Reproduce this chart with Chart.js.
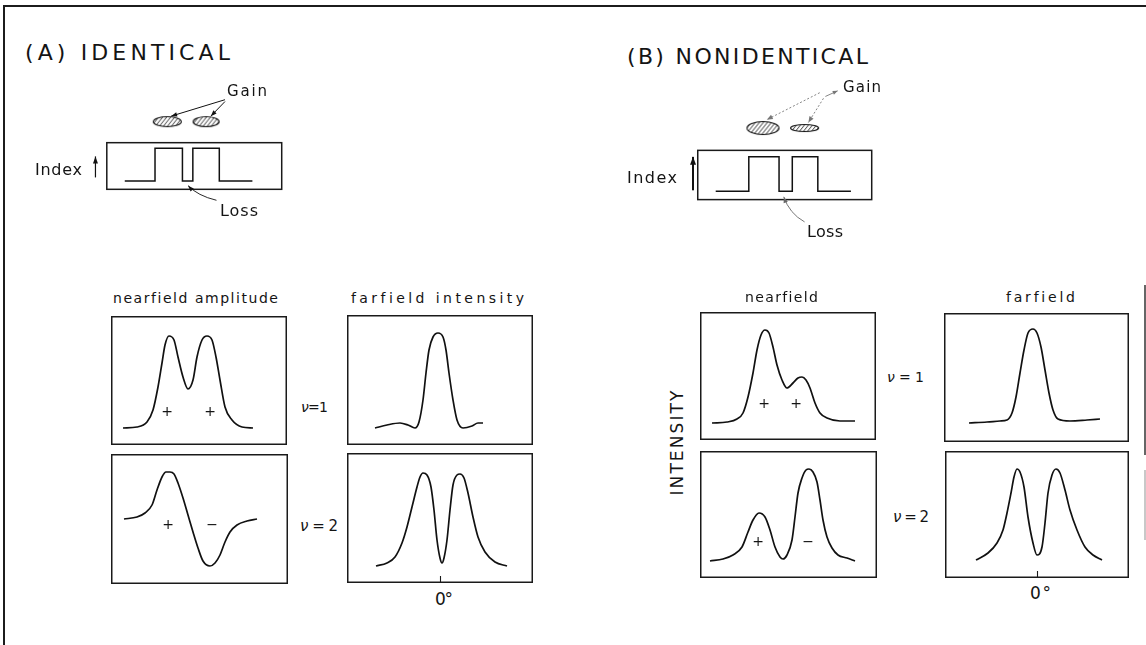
<!DOCTYPE html>
<html><head><meta charset="utf-8">
<script src="https://cdn.jsdelivr.net/npm/chart.js@4.4.1/dist/chart.umd.min.js"></script>
<style>
html,body{margin:0;padding:0;background:#fff;}
#page{position:relative;width:1146px;height:645px;overflow:hidden;background:#fff;font-family:"DejaVu Sans","Noto Sans",sans-serif;font-weight:normal;color:#141414;}
canvas{position:absolute;}
.t{position:absolute;white-space:nowrap;line-height:1;transform:translateY(-50%);}
.c{position:absolute;white-space:nowrap;line-height:1;transform:translate(-50%,-50%);}
.ln{position:absolute;background:#1c1c1c;}
</style></head><body><div id="page"></div>
<script>
// ---------- data (x: position / angle units, y: amplitude / intensity units) ----------
const nearA1 = [[12,17],[26,18],[36,23],[42,35],[47,58],[51,82],[54,100],[58,109],[63,105],[67,88],[72,68],[77,56],[82,65],[86,88],[91,105],[96,109],[101,105],[105,88],[109,65],[114,38],[121,25],[131,18],[142,17]];
const nearA2 = [[13,65],[26,67],[34,71],[41,79],[46,94],[51,107],[55,112],[59,112],[63,110],[67,101],[72,86],[77,69],[82,52],[87,36],[92,23],[99,18],[104,21],[109,29],[114,42],[119,52],[126,59],[136,63],[146,65]];
const farA1 = [[-65,17],[-53,20],[-40,22],[-32,20],[-25,17],[-21,23],[-17,45],[-14,72],[-11,95],[-7,108],[-2,112],[3,108],[6,95],[9,72],[13,45],[17,25],[23,17],[32,19],[38,22],[43,22]];
const farA2 = [[-64,17],[-53,20],[-45,26],[-38,40],[-33,56],[-28,76],[-23,96],[-20,106],[-17,110],[-13,108],[-9,96],[-6,73],[-3,43],[0,25],[2,20],[4,25],[7,43],[10,73],[13,98],[17,108],[20,109],[24,105],[28,90],[33,66],[38,46],[45,31],[55,21],[67,17]];
const nearB1 = [[12,17],[27,18],[37,21],[43,27],[48,43],[53,67],[57,90],[61,105],[65,110],[69,107],[73,93],[77,75],[82,60],[87,52],[93,57],[98,62],[102,63],[106,60],[110,52],[115,37],[120,27],[127,22],[140,19],[155,19]];
const nearB2 = [[10,17],[23,19],[33,23],[42,31],[48,46],[53,58],[59,65],[65,61],[70,48],[75,31],[80,21],[83,19],[87,23],[92,38],[95,61],[98,85],[102,100],[106,108],[109,109],[113,106],[117,96],[120,78],[123,58],[127,41],[132,30],[138,23],[147,20],[155,17]];
const farB1 = [[-68,19],[-50,20],[-37,21],[-30,22],[-25,29],[-21,45],[-17,69],[-13,92],[-9,109],[-4,113],[0,109],[4,95],[8,72],[12,49],[16,32],[21,23],[33,21],[50,22],[63,23]];
const farB2 = [[-61,18],[-49,25],[-40,35],[-34,48],[-30,65],[-26,85],[-23,101],[-20,109],[-17,106],[-13,91],[-9,61],[-4,35],[0,23],[5,31],[8,55],[11,85],[15,103],[19,109],[23,105],[28,88],[33,68],[40,48],[48,31],[56,23],[65,18]];
const farTicks = [0];
const farTickLabels = ["0°"];

// index profiles (schematic), gain regions
const indexA = [[41,36],[73,36],[73,72],[102,72],[102,36],[113,36],[113,72],[141,72],[141,36],[176,36]];
const gainA = [[86,101],[127,101]];
const indexB = [[42,46],[77,46],[77,83],[109,83],[109,46],[123,46],[123,83],[150,83],[150,46],[185,46]];
const gainB = [[92,114],[136,114]];

const modeLabels = ["ν = 1","ν = 2"];

// ---------- helpers ----------
const page = document.getElementById('page');
function addCanvas(l,t,w,h){
  const c=document.createElement('canvas');
  c.width=w;c.height=h;
  c.style.left=l+'px';c.style.top=t+'px';c.style.width=w+'px';c.style.height=h+'px';
  page.appendChild(c);return c;
}
function label(html,x,y,size,target,cls,extra){
  const d=document.createElement('div');
  d.className=cls||'t';
  d.innerHTML=html;
  d.style.left=x+'px';d.style.top=y+'px';d.style.fontSize=size+'px';
  if(extra) Object.assign(d.style,extra);
  page.appendChild(d);
  if(target){
    const r=d.getBoundingClientRect();
    const w=(extra&&extra.rot)?r.height:r.width;
    const n=[...d.textContent].length;
    if(n>1) d.style.letterSpacing=((target-w)/(n-1)).toFixed(2)+'px';
  }
  return d;
}
function line(l,t,w,h,col){const d=document.createElement('div');d.className='ln';Object.assign(d.style,{left:l+'px',top:t+'px',width:w+'px',height:h+'px'});if(col)d.style.background=col;page.appendChild(d);}

const framePlugin = {
  id:'frame',
  afterDraw(chart,args,opts){
    const ctx=chart.ctx,a=chart.chartArea;
    ctx.save();
    ctx.strokeStyle='#1a1a1a';ctx.lineWidth=1.5;
    ctx.strokeRect(a.left+0.75,a.top+0.75,a.width-1.5,a.height-1.5);
    if(opts.ticks){
      ctx.lineWidth=1.1;
      opts.ticks.forEach(v=>{
        const x=Math.round(chart.scales.x.getPixelForValue(v))+0.5;
        ctx.beginPath();ctx.moveTo(x,a.bottom);ctx.lineTo(x,a.bottom-7);ctx.stroke();
      });
    }
    ctx.restore();
  }
};

function panel(l,t,w,h,xmin,pts,ticks){
  const c=addCanvas(l,t,w,h);
  return new Chart(c,{
    type:'line',
    data:{datasets:[{data:pts.map(p=>({x:p[0],y:p[1]})),borderColor:'#111',borderWidth:1.7,pointRadius:0,cubicInterpolationMode:'monotone',fill:false}]},
    options:{responsive:false,animation:false,events:[],layout:{padding:0},
      plugins:{legend:{display:false},tooltip:{enabled:false},frame:{ticks:ticks||null}},
      scales:{x:{type:'linear',display:false,min:xmin,max:xmin+w},y:{type:'linear',display:false,min:0,max:h}}},
    plugins:[framePlugin]
  });
}

function hatchEllipse(w,h){
  const c=document.createElement('canvas');c.width=w+3;c.height=h+3;
  const ctx=c.getContext('2d');
  const cx=c.width/2,cy=c.height/2;
  ctx.save();
  ctx.beginPath();ctx.ellipse(cx,cy,w/2,h/2,0,0,Math.PI*2);ctx.clip();
  ctx.strokeStyle='#222';ctx.lineWidth=0.9;
  for(let i=-h;i<w+h;i+=4){ctx.beginPath();ctx.moveTo(i,c.height);ctx.lineTo(i+c.height*0.8,0);ctx.stroke();}
  ctx.restore();
  ctx.strokeStyle='#111';ctx.lineWidth=1.1;
  ctx.beginPath();ctx.ellipse(cx,cy,w/2,h/2,0,0,Math.PI*2);ctx.stroke();
  return c;
}

const schemPlugin = {
  id:'schem',
  afterDraw(chart,args,opts){
    const ctx=chart.ctx,sx=chart.scales.x,sy=chart.scales.y;
    const P=(p)=>[sx.getPixelForValue(p[0]),sy.getPixelForValue(p[1])];
    ctx.save();
    const b=opts.box;
    const p0=P([b[0],b[3]]),p1=P([b[1],b[2]]);
    ctx.strokeStyle='#1a1a1a';ctx.lineWidth=1.5;
    ctx.strokeRect(p0[0],p0[1],p1[0]-p0[0],p1[1]-p0[1]);
    (opts.arrows||[]).forEach(ar=>{
      const f=P(ar.from),t=P(ar.to);
      const cp=ar.ctrl?P(ar.ctrl):null;
      ctx.strokeStyle=ar.color||'#111';ctx.fillStyle=ar.color||'#111';
      ctx.lineWidth=ar.width||1;
      ctx.setLineDash(ar.dash||[]);
      ctx.beginPath();ctx.moveTo(f[0],f[1]);
      if(cp) ctx.quadraticCurveTo(cp[0],cp[1],t[0],t[1]); else ctx.lineTo(t[0],t[1]);
      ctx.stroke();
      ctx.setLineDash([]);
      const s=cp||f;
      const ang=Math.atan2(t[1]-s[1],t[0]-s[0]);
      const hl=ar.hl||6,hw=ar.hw||2.2;
      ctx.beginPath();
      ctx.moveTo(t[0],t[1]);
      ctx.lineTo(t[0]-hl*Math.cos(ang)+hw*Math.sin(ang),t[1]-hl*Math.sin(ang)-hw*Math.cos(ang));
      ctx.lineTo(t[0]-hl*Math.cos(ang)-hw*Math.sin(ang),t[1]-hl*Math.sin(ang)+hw*Math.cos(ang));
      ctx.closePath();ctx.fill();
    });
    ctx.restore();
  }
};

function schematic(l,t,w,h,step,gains,sizes,box,arrows){
  const c=addCanvas(l,t,w,h);
  const imgs=sizes.map(s=>hatchEllipse(s[0],s[1]));
  return new Chart(c,{
    type:'line',
    data:{datasets:[
      {data:step.map(p=>({x:p[0],y:p[1]})),borderColor:'#111',borderWidth:1.5,pointRadius:0,tension:0,fill:false},
      {data:gains.map(p=>({x:p[0],y:p[1]})),showLine:false,pointStyle:imgs,pointRadius:6,borderWidth:0}
    ]},
    options:{responsive:false,animation:false,events:[],layout:{padding:0},
      plugins:{legend:{display:false},tooltip:{enabled:false},schem:{box,arrows}},
      scales:{x:{type:'linear',display:false,min:0,max:w},y:{type:'linear',display:false,min:0,max:h}}},
    plugins:[schemPlugin]
  });
}

// ---------- outer frame ----------
line(3,5,1143,2);
line(3,5,2,640);
line(1144,285,2,170,'#666');
line(1144,470,2,70,'#c8c8c8');

// ---------- schematics ----------
schematic(80,80,220,140,indexA,gainA,[[28,10],[26,10]],[22,207,27,78],[
  {from:[147,125],to:[90,107],width:1,hl:6,hw:2.2},
  {from:[147,123],to:[132,107],width:1,hl:6,hw:2.2},
  {from:[10,40],to:[10,63],width:1.2,hl:7,hw:2.5},
  {from:[138,15],ctrl:[118,20],to:[108,31],width:0.9,hl:6,hw:2.2}
]);
schematic(670,70,220,170,indexB,gainB,[[32,13],[28,7]],[23,207,37,90],[
  {from:[152,152],to:[96,123],width:0.9,color:'#777',dash:[2,2],hl:6,hw:2.4},
  {from:[156,146],to:[140,120],width:0.9,color:'#777',dash:[2,2],hl:6,hw:2.4},
  {from:[158,148],to:[171,154],width:0.9,color:'#777',hl:5,hw:2},
  {from:[18,47],to:[18,83],width:2,hl:8,hw:3},
  {from:[136,13],ctrl:[120,22],to:[114,40],width:0.9,color:'#666',hl:6,hw:2.2}
]);

// ---------- mode panels ----------
panel(111,316,176,129,0,nearA1);
panel(111,454,177,130,0,nearA2);
panel(347,315,186,130,-93,farA1);
panel(347,453,186,130,-93,farA2,farTicks);
panel(700,312,176,128,0,nearB1);
panel(700,451,177,127,0,nearB2);
panel(944,313,185,129,-93,farB1);
panel(945,451,184,127,-92,farB2,farTicks);

// ---------- text ----------
label("(A) IDENTICAL",25,53,22,205);
label("(B) NONIDENTICAL",627,57,22,241);
label("Gain",227,91,15,40);
label("Index",35,170,16,47);
label("Loss",220,211,16,38);
label("Gain",843,87,15,38);
label("Index",627,178,16,50);
label("Loss",807,232,16,36);
label("nearfield amplitude",113,298,14,165);
label("farfield intensity",351,298,14,173);
label("nearfield",745,297,14,73);
label("farfield",1006,297,14,69);
const nu=(s)=>s.replace('ν','<i>ν</i>');
label(nu(modeLabels[0]),301,407,14,27);
label(nu(modeLabels[1]),300,526,15,38);
label(nu(modeLabels[0]),887,377,14,37);
label(nu(modeLabels[1]),893,517,15,36);
label(farTickLabels[0],435,599,17,18);
label(farTickLabels[0],1030,593,17,21);
label("INTENSITY",677,442,17,105,'c',{transform:'translate(-50%,-50%) rotate(-90deg)',rot:1});
// phase signs
label("+",167,411,14,0,'c');
label("+",210,411,14,0,'c');
label("+",168,524,14,0,'c');
label("−",212,524,14,0,'c');
label("+",764,403,14,0,'c');
label("+",796,403,14,0,'c');
label("+",758,541,14,0,'c');
label("−",808,541,14,0,'c');
</script>
</body></html>
